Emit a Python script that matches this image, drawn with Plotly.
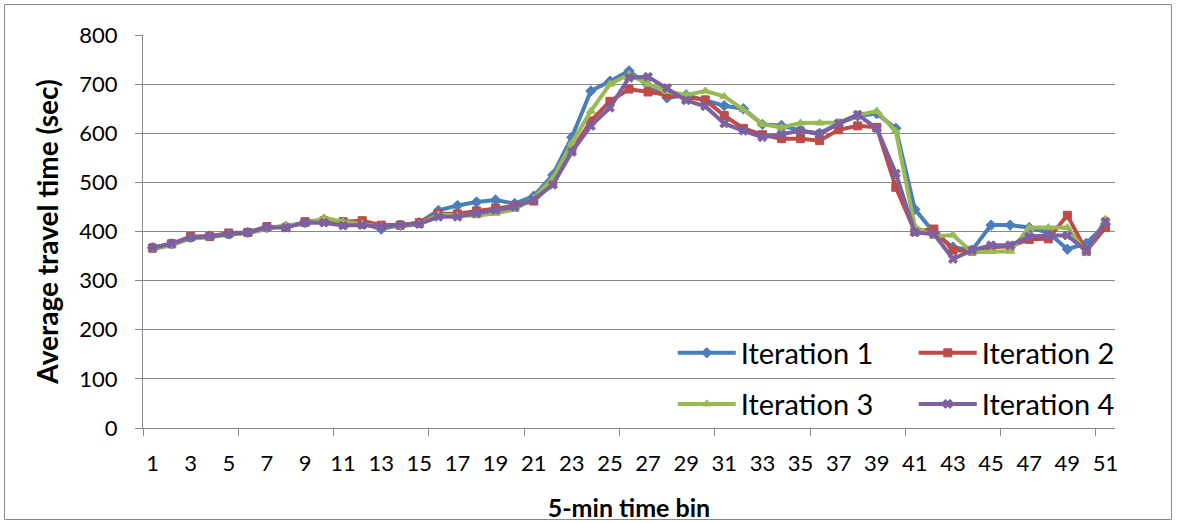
import plotly.graph_objects as go

bins = list(range(1, 52))
iter1 = [367, 375, 388, 391, 395, 398, 408, 410, 418, 425, 418, 416, 405, 413, 418, 443, 453, 460, 464, 457,
         472, 515, 592, 686, 706, 727, 697, 672, 678, 666, 656, 650, 618, 616, 605, 600, 620, 635, 640, 610,
         445, 398, 368, 362, 413, 413, 408, 398, 364, 376, 415]
iter2 = [366, 375, 390, 390, 397, 398, 410, 408, 420, 422, 420, 422, 413, 413, 418, 436, 436, 442, 448, 452,
         462, 498, 565, 625, 665, 690, 684, 678, 672, 668, 636, 610, 597, 589, 589, 585, 607, 615, 612, 490,
         400, 405, 362, 360, 368, 370, 384, 385, 433, 360, 408]
iter3 = [364, 372, 386, 388, 394, 396, 405, 413, 415, 428, 420, 416, 410, 410, 415, 434, 432, 432, 437, 445,
         468, 508, 580, 645, 700, 720, 700, 685, 678, 686, 675, 648, 618, 612, 621, 621, 622, 637, 645, 604,
         410, 390, 393, 358, 360, 360, 408, 408, 408, 356, 425]
iter4 = [367, 375, 388, 390, 395, 398, 408, 408, 418, 418, 412, 413, 410, 413, 415, 430, 430, 437, 444, 450,
         465, 495, 562, 615, 652, 713, 715, 692, 667, 655, 620, 605, 592, 598, 605, 598, 620, 638, 610, 518,
         398, 395, 344, 362, 372, 372, 390, 392, 392, 360, 420]
names = ["Iteration 1", "Iteration 2", "Iteration 3", "Iteration 4"]
colors = ["#4A7EBB", "#BE4B48", "#98B954", "#7D60A0"]
symbols = ["diamond", "square", "triangle-up", "x"]
legends = ["legend", "legend", "legend2", "legend2"]
xtick_vals = list(range(1, 52, 2))
ytick_vals = list(range(0, 801, 100))

FONT = "Lato"
fig = go.Figure()
for name, ys, c, s, lg in zip(names, [iter1, iter2, iter3, iter4], colors, symbols, legends):
    fig.add_trace(go.Scatter(
        x=bins, y=ys, name=name, mode="lines+markers", legend=lg,
        line=dict(color=c, width=4),
        marker=dict(symbol=s, size=8, color=c, line=dict(color=c, width=1)),
    ))

grid = "#878787"
legend_common = dict(orientation="h", x=0.545, xanchor="left", yanchor="middle",
                     bgcolor="rgba(0,0,0,0)", font=dict(size=29, family=FONT),
                     entrywidth=168, entrywidthmode="pixels", itemwidth=58)
fig.update_layout(
    width=1177, height=523,
    margin=dict(l=143, r=62, t=35, b=95, autoexpand=False),
    paper_bgcolor="white", plot_bgcolor="white",
    font=dict(family=FONT, color="black", size=22),
    showlegend=True,
    legend=dict(y=0.191, **legend_common),
    legend2=dict(y=0.061, **legend_common),
    xaxis=dict(
        range=[0.5, 51.5], tickmode="array", tickvals=xtick_vals,
        ticktext=[str(v) for v in xtick_vals], ticks="", showgrid=False,
        showline=True, linecolor=grid, linewidth=1, zeroline=False,
        tickfont=dict(size=22, family=FONT), ticklabelstandoff=16,
        minor=dict(tickmode="linear", tick0=0.5, dtick=5, ticks="outside",
                   ticklen=7, tickcolor=grid, showgrid=False),
        title=dict(text="<b>5-min time bin</b>", font=dict(size=25, family=FONT), standoff=24),
    ),
    yaxis=dict(
        range=[0, 800], tickmode="array", tickvals=ytick_vals,
        showgrid=True, gridcolor=grid, gridwidth=1,
        showline=True, linecolor=grid, linewidth=1, zeroline=False,
        ticks="outside", ticklen=7, tickcolor=grid,
        tickfont=dict(size=22, family=FONT), ticklabelstandoff=13,
        title=dict(text="<b>Average travel time (sec)</b>", font=dict(size=28, family=FONT), standoff=12),
    ),
    shapes=[dict(type="rect", xref="paper", yref="paper", x0=-0.1425, x1=1.0581,
                 y0=-0.2328, y1=1.0776, line=dict(color="#898989", width=1), layer="below")],
)
fig.write_html("out.html", config={"displayModeBar": False},
               post_script="document.body.style.margin='0px';")
